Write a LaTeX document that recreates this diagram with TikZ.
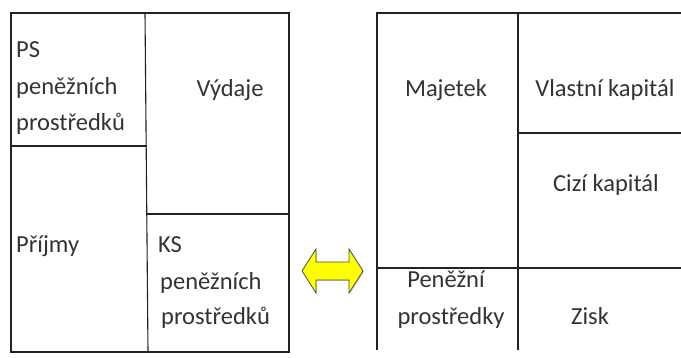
\documentclass[tikz,border=0pt]{standalone}
\usepackage{fontspec}
\setmainfont{Carlito}
\usetikzlibrary{shadows}
\definecolor{txt}{HTML}{333333}
\definecolor{ln}{HTML}{222222}
\definecolor{arrowfill}{HTML}{FFFF00}
\tikzset{
  frame/.style={draw=ln, line width=1.1pt},
  lbl/.style={inner sep=0pt, text=txt, font=\fontsize{24.5}{36}\selectfont},
}
\begin{document}
\begin{tikzpicture}[x=1pt,y=-1pt]
\useasboundingbox (0,0) rectangle (681,358);
% left box
\draw[frame] (11,13) rectangle (289,352);
\draw[frame] (145,13) -- (148,352);
\draw[frame] (11,146) -- (147,146);
\draw[frame] (147,214) -- (289,214);
% right box
\draw[frame] (681,13) -- (377,13) -- (377,350);
\draw[frame] (518,13) -- (518,350);
\draw[frame] (518,133) -- (681,133);
\draw[frame] (377,268) -- (681,268);
% labels left
\node[lbl, anchor=base west] (ps1) at (16,58) {PS};
\node[lbl, anchor=base west] (ps2) at (16,95) {peněžních};
\node[lbl, anchor=base west] (ps3) at (16,131) {prostředků};
\node[lbl, anchor=base] (vyd) at (230,97) {Výdaje};
\node[lbl, anchor=base west] (pri) at (16,253) {Příjmy};
\node[lbl, anchor=base west] (ks1) at (158,253) {KS};
\node[lbl, anchor=base west] (ks2) at (160,290) {peněžních};
\node[lbl, anchor=base west] (ks3) at (161,325) {prostředků};
% labels right
\node[lbl, anchor=base] (maj) at (446,97) {Majetek};
\node[lbl, anchor=base] (vk) at (605,97) {Vlastní kapitál};
\node[lbl, anchor=base] (ck) at (606,192) {Cizí kapitál};
\node[lbl, anchor=base] (pp1) at (446,288) {Peněžní};
\node[lbl, anchor=base] (pp2) at (451,325) {prostředky};
\node[lbl, anchor=base] (zis) at (590,325) {Zisk};
% double arrow
\draw[draw=black!70, line width=0.8pt, fill=arrowfill,
      drop shadow={shadow xshift=1pt, shadow yshift=-1pt, opacity=0.35}]
  (302,271) -- (316,249) -- (316,262) -- (349,262) -- (349,249) -- (363,271)
  -- (349,293) -- (349,280) -- (316,280) -- (316,293) -- cycle;
\end{tikzpicture}
\end{document}
